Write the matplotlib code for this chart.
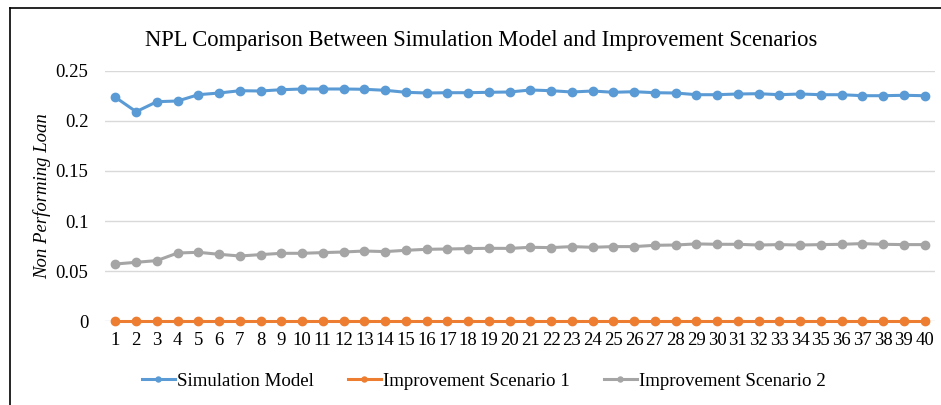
import matplotlib
matplotlib.use("Agg")
import matplotlib.pyplot as plt
from matplotlib.lines import Line2D
import numpy as np

plt.rcParams['font.family'] = ['Liberation Serif', 'DejaVu Serif']

# data
periods = list(range(1, 41))
simulation_model = [
    0.2237, 0.2093, 0.2193, 0.2200, 0.2263, 0.2280, 0.2303, 0.2300, 0.2313, 0.2320,
    0.2320, 0.2320, 0.2317, 0.2307, 0.2287, 0.2280, 0.2283, 0.2283, 0.2287, 0.2290,
    0.2310, 0.2303, 0.2290, 0.2300, 0.2287, 0.2293, 0.2283, 0.2280, 0.2263, 0.2263,
    0.2270, 0.2273, 0.2263, 0.2270, 0.2263, 0.2263, 0.2253, 0.2253, 0.2257, 0.2253,
]
scenario_1 = [0.0] * 40
scenario_2 = [
    0.0570, 0.0587, 0.0604, 0.0680, 0.0687, 0.0667, 0.0650, 0.0664, 0.0677, 0.0677,
    0.0684, 0.0690, 0.0700, 0.0694, 0.0707, 0.0717, 0.0720, 0.0724, 0.0727, 0.0726,
    0.0737, 0.0734, 0.0744, 0.0737, 0.0744, 0.0744, 0.0757, 0.0760, 0.0771, 0.0767,
    0.0767, 0.0760, 0.0764, 0.0760, 0.0764, 0.0767, 0.0774, 0.0767, 0.0764, 0.0764,
]
series_names = ["Simulation Model", "Improvement Scenario 1", "Improvement Scenario 2"]
series_colors = ["#5B9BD5", "#ED7D31", "#A5A5A5"]
y_ticks = [0, 0.05, 0.1, 0.15, 0.2, 0.25]
y_tick_labels = ["0", "0.05", "0.1", "0.15", "0.2", "0.25"]

fig = plt.figure(figsize=(9.41, 4.05), dpi=100)
ax = fig.add_axes([0.1116, 0.2074, 0.8820, 0.6173])

for vals, name, col in zip([simulation_model, scenario_1, scenario_2], series_names, series_colors):
    ax.plot(periods, vals, color=col, lw=2.2, marker='o', ms=6, label=name,
            zorder=3, clip_on=False)

ax.set_xlim(0.5, 40.5)
ax.set_ylim(0, 0.25)
ax.set_yticks(y_ticks)
ax.set_yticklabels(y_tick_labels)
ax.set_xticks(periods)
ax.set_xticklabels([str(p) for p in periods])
ax.tick_params(axis='y', length=0, pad=12, labelsize=13.5)
ax.tick_params(axis='x', length=0, pad=8, labelsize=13.5)
ax.grid(axis='y', color='#D9D9D9', lw=1)
ax.set_axisbelow(True)
for s in ax.spines.values():
    s.set_visible(False)

ax.set_ylabel("Non Performing Loan", fontsize=13.5, style='italic', labelpad=3)
fig.text(0.511, 0.9, "NPL Comparison Between Simulation Model and Improvement Scenarios",
         ha='center', va='center', fontsize=16.3)

ax.legend(loc='center', bbox_to_anchor=(0.456, -0.24), ncol=3, frameon=False,
          fontsize=13.6, handlelength=1.76, handletextpad=0.1, columnspacing=1.8,
          markerscale=0.6)

# frame lines (top and left) as in the cropped source
fig.add_artist(Line2D([10 / 941, 10 / 941], [0, 1 - 8 / 405], color='black', lw=1.2,
                      transform=fig.transFigure))
fig.add_artist(Line2D([10 / 941, 1], [1 - 8 / 405, 1 - 8 / 405], color='black', lw=1.2,
                      transform=fig.transFigure))

fig.savefig("out.png", dpi=100)
